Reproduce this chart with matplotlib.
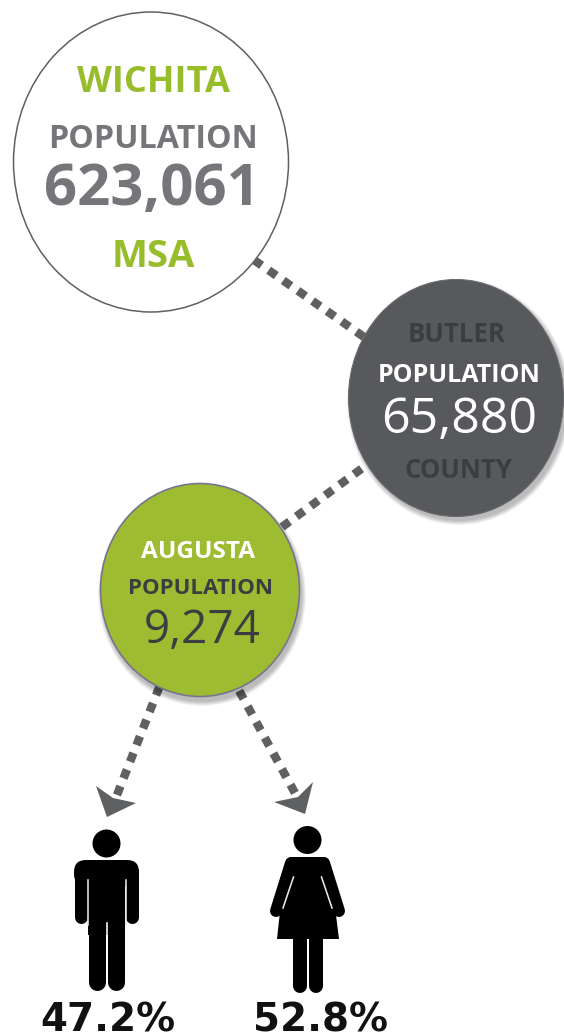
"""
Wichita MSA / Butler County / Augusta population drill-down graphic.
Drawn on a full-figure axes in pixel units of the reference (y pointing down).
"""

import matplotlib
matplotlib.use('Agg')
import matplotlib.pyplot as plt
from matplotlib.patches import Ellipse, Circle, Polygon, FancyBboxPatch

# values
place_names = ["WICHITA", "BUTLER", "AUGUSTA"]
place_suffix = ["MSA", "COUNTY", ""]
pop_label = "POPULATION"
populations = ["623,061", "65,880", "9,274"]
gender_shares = ["47.2%", "52.8%"]

W, H = 564, 1035
DPI = 100
PX = 72 / DPI  # one pixel in points

GREEN = "#97BD2A"
GREY_TEXT = "#75767A"
BUTLER_FILL = "#58595C"
AUGUSTA_FILL = "#9DBC31"
DARK = "#3C3D40"
LINK = "#5F6062"

plt.rcParams['font.family'] = ['Open Sans', 'DejaVu Sans']

fig = plt.figure(figsize=(W / DPI, H / DPI), dpi=DPI)
ax = fig.add_axes([0, 0, 1, 1])
ax.set_xlim(0, W)
ax.set_ylim(H, 0)
ax.axis('off')


def dotted(x0, y0, x1, y1):
    ax.plot([x0, x1], [y0, y1], color=LINK, lw=8.5 * PX,
            dashes=(1.1, 1.0), dash_capstyle='butt', zorder=1)


def soft_shadow(cx, cy, rx, ry, dx, dy, spread):
    # stack of faint ellipses, good enough for a blurred drop shadow
    for i in range(8):
        grow = spread * (1 - i / 8)
        ax.add_patch(Ellipse((cx + dx, cy + dy), 2 * (rx + grow), 2 * (ry + grow),
                             fc="black", ec="none", alpha=0.035, zorder=2))


def label(x, y, s, size, color, weight='bold'):
    ax.text(x, y, s, fontsize=size, color=color, fontweight=weight,
            ha='center', va='center', zorder=5)


def limb(pts, width_px):
    xs, ys = zip(*pts)
    ax.plot(xs, ys, color="black", lw=width_px * PX, solid_capstyle='round',
            solid_joinstyle='round', zorder=4)


# links
dotted(254, 260, 364, 337)
dotted(282, 527, 368, 464)
dotted(159.5, 686.5, 117, 795)
dotted(239.1, 690.7, 295, 793)

# arrow heads
ax.add_patch(Polygon([(107, 817), (96, 786), (113, 798), (136, 803)], fc=LINK, ec="none", zorder=1))
ax.add_patch(Polygon([(305, 814), (313, 782), (298, 797), (274, 802)], fc=LINK, ec="none", zorder=1))

# circles
ax.add_patch(Ellipse((151, 162), 275, 300, fc="white", ec="#606060", lw=1.1, zorder=3))

soft_shadow(456, 398, 107, 118, 3, 4, 5)
ax.add_patch(Ellipse((456, 398), 215, 237, fc=BUTLER_FILL, ec="#6A6B6E", lw=0.8, zorder=3))

soft_shadow(200, 590, 99, 106, 2, 5, 5)
ax.add_patch(Ellipse((200, 590), 199, 213, fc=AUGUSTA_FILL, ec="#77748F", lw=1.2, zorder=3))

# wichita text
label(153, 83, place_names[0], 26, GREEN)
label(153, 140, pop_label, 23.2, GREY_TEXT)
label(152, 190, populations[0], 41.8, GREY_TEXT)
label(153, 257, place_suffix[0], 27.5, GREEN)

# butler text
label(457, 335, place_names[1], 18.5, DARK)
label(459, 376, pop_label, 18, "white")
label(459, 420, populations[1], 36, "white", weight='normal')
label(458, 471, place_suffix[1], 18.5, DARK)

# augusta text
label(198, 552, place_names[2], 17.6, "white")
label(200, 588, pop_label, 16, DARK)
label(202, 631, populations[2], 33, DARK, weight='normal')

# man
ax.add_patch(Circle((106.5, 843.5), 14, fc="black", ec="none", zorder=4))
ax.add_patch(FancyBboxPatch((80, 866), 53, 14, boxstyle="round,pad=6,rounding_size=12",
                            fc="black", ec="none", zorder=4))
ax.add_patch(Polygon([(88, 870), (125, 870), (125, 935), (88, 935)], fc="black", ec="none", zorder=4))
limb([(81, 872), (81, 917)], 13)
limb([(132, 872), (132, 917)], 13)
limb([(97, 925), (97, 982)], 17)
limb([(116, 925), (116, 982)], 17)
ax.plot([87.5, 87.5], [880, 925], color="#E8E8E8", lw=1.6 * PX, zorder=4.5)
ax.plot([125.5, 125.5], [880, 925], color="#E8E8E8", lw=1.6 * PX, zorder=4.5)
ax.plot([106.5, 106.5], [923, 991], color="white", lw=1.6 * PX, zorder=4.5)

# woman
ax.add_patch(Circle((307.5, 840), 14, fc="black", ec="none", zorder=4))
ax.add_patch(Polygon([(290, 857), (325, 857), (331, 875), (339, 939), (277, 939), (284, 875)],
                     fc="black", ec="none", zorder=4))
limb([(291, 863), (276, 911)], 12)
limb([(324, 863), (339, 911)], 12)
limb([(300, 935), (300, 986)], 14)
limb([(316, 935), (316, 986)], 14)
ax.plot([293.5, 283], [877, 908], color="#E8E8E8", lw=1.6 * PX, zorder=4.5)
ax.plot([321.5, 332], [877, 908], color="#E8E8E8", lw=1.6 * PX, zorder=4.5)

# shares
ax.text(108, 1032, gender_shares[0], fontsize=28, fontweight='bold', family=['DejaVu Sans'],
        color="#111111", ha='center', va='baseline', zorder=5)
ax.text(321, 1032, gender_shares[1], fontsize=28, fontweight='bold', family=['DejaVu Sans'],
        color="#111111", ha='center', va='baseline', zorder=5)

plt.savefig("out.png", dpi=DPI, facecolor="white")
plt.close()
